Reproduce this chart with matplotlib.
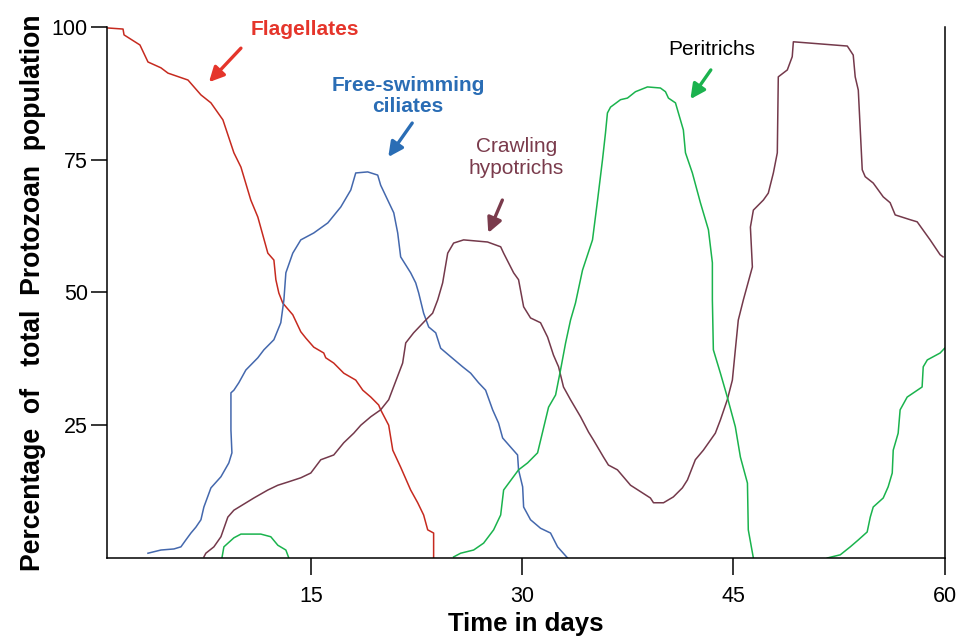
import matplotlib
matplotlib.use("Agg")
import matplotlib.pyplot as plt

plt.rcParams['font.family'] = ['Liberation Sans', 'DejaVu Sans']

# values (day, percent)
flag_days = [0.6, 1.67, 1.74, 2.87, 3.44, 4.36, 4.86, 6.28, 7.2, 7.91, 8.76, 9.54, 10.04, 10.74, 11.24,
             11.95, 12.38, 12.52, 12.73, 13.01, 13.72, 14.29, 14.65, 15.21, 15.92, 16.06, 16.63, 17.34,
             18.19, 18.69, 19.26, 19.82, 19.96, 20.53, 20.82, 21.38, 22.09, 22.59, 23.01, 23.3, 23.72, 23.72]
flag_pct = [99.8, 99.6, 98.5, 96.6, 93.4, 92.3, 91.3, 90.0, 87.2, 85.7, 82.5, 76.3, 73.6, 67.4, 64.2,
            57.4, 56.1, 52.4, 49.9, 48.0, 45.8, 42.6, 41.4, 39.7, 38.6, 37.7, 36.7, 34.8,
            33.5, 31.6, 30.3, 28.8, 27.9, 25.0, 20.3, 17.1, 12.8, 10.4, 8.1, 5.3, 4.7, 0.0]

cil_days = [3.44, 4.36, 5.28, 5.78, 6.13, 6.49, 6.84, 7.2, 7.41, 7.91, 8.62, 9.18, 9.4, 9.33, 9.33, 9.54,
            9.89, 10.39, 11.24, 11.67, 12.38, 12.87, 13.09, 13.23, 13.72, 14.29, 15.21, 16.21, 17.13,
            17.84, 18.19, 19.04, 19.75, 19.96, 20.46, 20.89, 21.17, 21.38, 22.09, 22.45, 22.66, 23.01,
            23.37, 23.87, 24.22, 24.93, 25.78, 26.35, 26.91, 27.41, 27.91, 28.33, 28.62, 29.18, 29.68,
            29.75, 30.04, 30.11, 30.6, 31.31, 32.02, 32.52, 33.23]
cil_pct = [0.9, 1.5, 1.7, 2.1, 3.4, 4.7, 5.8, 7.2, 9.6, 13.2, 15.3, 17.9, 19.8, 24.1, 31.1, 31.6,
           33.0, 35.4, 37.7, 39.2, 41.1, 44.3, 48.6, 53.7, 57.4, 59.9, 61.2, 63.1, 66.1,
           69.3, 72.5, 72.7, 72.1, 70.2, 67.4, 65.0, 61.2, 56.7, 53.7, 51.8, 49.9, 46.1,
           43.5, 42.4, 39.5, 37.9, 36.0, 34.8, 33.0, 31.6, 27.9, 25.4, 22.6, 20.9, 19.4,
           16.6, 13.4, 9.6, 7.2, 5.6, 4.7, 2.1, 0.0]

hyp_days = [7.41, 7.55, 8.12, 8.62, 9.11, 9.54, 10.96, 11.95, 12.66, 13.37, 14.29, 15.0, 15.71, 16.63,
            17.34, 18.05, 18.55, 19.26, 19.96, 20.53, 21.52, 21.74, 22.3, 23.16, 23.65, 24.01, 24.36,
            24.72, 25.14, 25.85, 27.55, 28.48, 28.69, 29.4, 29.75, 30.11, 30.6, 31.31, 31.81, 32.23,
            32.59, 32.94, 33.44, 34.15, 34.72, 35.07, 35.78, 36.13, 36.77, 37.7, 39.11, 39.33, 40.04,
            40.74, 41.38, 41.74, 42.3, 42.87, 43.72, 44.08, 44.57, 44.93, 45.14, 45.35, 45.71, 46.35,
            46.21, 46.42, 47.13, 47.48, 47.84, 48.12, 48.19, 48.83, 49.18, 49.26, 53.09, 53.51, 53.65,
            53.87, 54.15, 54.36, 54.93, 55.64, 56.13, 56.49, 57.55, 58.05, 58.97, 59.68, 59.89]
hyp_pct = [0.2, 0.9, 2.1, 4.0, 7.7, 9.0, 11.3, 12.8, 13.7, 14.3, 15.1, 16.0, 18.5, 19.4,
           21.7, 23.5, 25.0, 26.6, 27.9, 29.8, 36.7, 40.5, 42.4, 44.8, 46.1, 48.6, 51.8,
           57.4, 59.3, 59.9, 59.5, 58.6, 57.4, 53.7, 52.4, 47.3, 45.2, 44.3, 41.6, 38.2,
           36.0, 32.2, 29.8, 26.6, 23.7, 22.2, 19.0, 17.5, 16.6, 13.7, 11.3, 10.4, 10.4,
           11.5, 13.2, 14.7, 18.5, 20.3, 23.5, 26.0, 29.8, 33.5, 39.2, 44.8, 48.6, 54.8,
           62.3, 65.5, 67.4, 68.7, 72.5, 76.3, 90.6, 91.9, 94.4, 97.2, 96.4, 94.7, 90.6,
           88.1, 73.1, 71.8, 70.6, 68.0, 66.9, 64.6, 63.7, 63.3, 59.9, 57.1, 56.7]

# peritrichs come in three separate waves
per1_days = [8.69, 8.83, 9.54, 10.04, 11.45, 12.16, 12.66, 13.23, 13.44]
per1_pct = [0.0, 2.1, 3.8, 4.5, 4.5, 4.0, 2.4, 1.5, 0.0]

per2_days = [25.14, 25.64, 26.56, 27.27, 27.98, 28.48, 28.69, 29.75, 30.39, 31.1, 31.88, 32.38, 32.73,
             33.09, 33.44, 33.79, 34.29, 35.0, 35.36, 35.71, 35.92, 36.06, 36.28, 36.99, 37.48, 38.05,
             38.9, 39.82, 40.18, 40.39, 40.89, 41.45, 41.6, 42.09, 42.66, 43.23, 43.51, 43.51, 43.58,
             44.08, 44.57, 45.14, 45.5, 46.0, 46.06, 46.42]
per2_pct = [0.2, 0.9, 1.5, 2.8, 5.3, 8.1, 12.8, 16.6, 17.9, 19.8, 28.4, 30.7, 35.4,
            40.5, 44.8, 48.0, 54.2, 59.9, 67.4, 75.0, 80.0, 83.8, 84.9, 86.3, 86.6, 87.8,
            88.7, 88.5, 87.8, 86.6, 85.7, 80.6, 76.3, 72.5, 66.9, 61.8, 55.6, 48.6, 39.2,
            34.8, 30.3, 24.7, 19.0, 14.1, 5.3, 0.0]

per3_days = [51.67, 52.59, 53.3, 53.87, 54.5, 54.72, 54.93, 55.64, 55.99, 56.28, 56.35, 56.7, 56.84,
             57.34, 58.4, 58.48, 58.77, 59.68, 60.0]
per3_pct = [0.0, 0.6, 2.1, 3.4, 4.9, 7.7, 9.6, 11.3, 13.4, 16.0, 20.3, 23.5, 27.9,
            30.3, 32.2, 36.0, 37.3, 38.6, 39.5]

x_ticks = [15, 30, 45, 60]
y_ticks = [25, 50, 75, 100]

red = '#c62a1f'
blue = '#4468ad'
brown = '#74394b'
green = '#1ab34d'

fig = plt.figure(figsize=(9.6, 6.41), dpi=100)
ax = fig.add_axes([0.111, 0.1295, 0.873, 0.8285])

ax.plot(flag_days, flag_pct, color=red, lw=1.1)
ax.plot(cil_days, cil_pct, color=blue, lw=1.1)
ax.plot(hyp_days, hyp_pct, color=brown, lw=1.1)
ax.plot(per1_days, per1_pct, color=green, lw=1.1)
ax.plot(per2_days, per2_pct, color=green, lw=1.1)
ax.plot(per3_days, per3_pct, color=green, lw=1.1)

ax.set_xlim(0.5, 60)
ax.set_ylim(0, 100)
ax.set_xticks(x_ticks)
ax.set_yticks(y_ticks)
ax.tick_params(axis='x', direction='out', length=12, width=1.1, pad=8, labelsize=15.5)
ax.tick_params(axis='y', direction='out', length=11.5, width=1.1, pad=2, labelsize=15.5)
ax.spines['top'].set_visible(False)
for s in ['left', 'bottom', 'right']:
    ax.spines[s].set_linewidth(1.1)

ax.set_xlabel('Time in days', fontsize=18.5, fontweight='bold', labelpad=4)
ax.set_ylabel('Percentage  of   total  Protozoan  population', fontsize=19.2, fontweight='bold', labelpad=4)

def label(txt, xy_text, xy_tail, xy_head, tcol, acol, weight):
    ax.text(xy_text[0], xy_text[1], txt, color=tcol, fontsize=15, fontweight=weight,
            ha='center', va='center', linespacing=1.15, clip_on=False)
    ax.annotate('', xy=xy_head, xytext=xy_tail,
                arrowprops=dict(arrowstyle='-|>', color=acol, lw=2.4, mutation_scale=22,
                                shrinkA=0, shrinkB=0))

label('Flagellates', (14.6, 99.5), (10.04, 96.0), (7.77, 89.6), '#e5352b', '#e5352b', 'bold')
label('Free-swimming\nciliates', (21.9, 87.0), (22.2, 81.9), (20.5, 75.5), '#2a6db5', '#2a6db5', 'bold')
label('Crawling\nhypotrichs', (29.6, 75.4), (28.6, 67.4), (27.6, 61.2), '#7a3b4c', '#7a3b4c', 'normal')
label('Peritrichs', (43.5, 95.7), (43.4, 91.9), (41.95, 86.4), 'black', '#1bb24e', 'normal')

fig.savefig('out.png', dpi=100)
